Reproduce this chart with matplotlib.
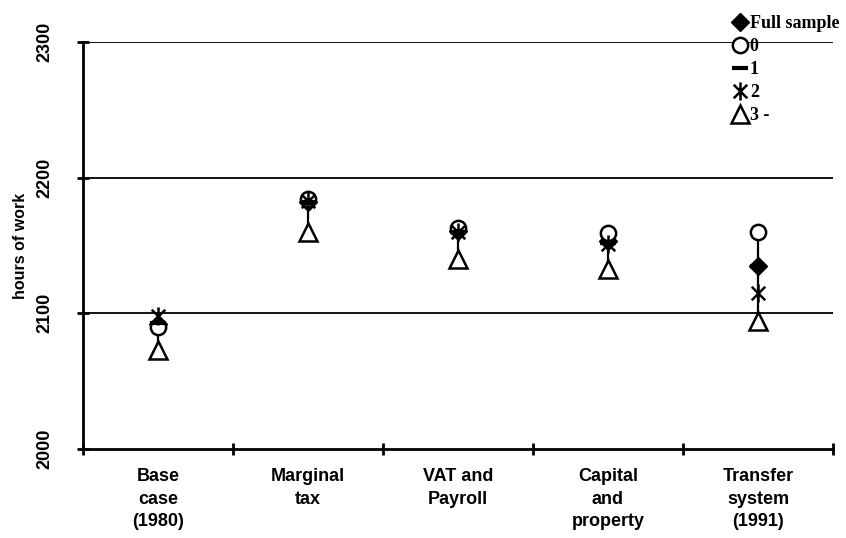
import numpy as np
import matplotlib.pyplot as plt
from matplotlib.path import Path

# Categories and hours of work per group
categorias = ['Base\ncase\n(1980)', 'Marginal\ntax', 'VAT and\nPayroll',
              'Capital\nand\nproperty', 'Transfer\nsystem\n(1991)']
full_sample = [2092, 2182, 2161, 2153, 2135]
grupo_0 = [2090, 2184, 2163, 2159, 2160]
grupo_1 = [2093, 2182, 2160, 2152, 2135]
grupo_2 = [2098, 2183, 2160, 2151, 2115]
grupo_3 = [2073, 2160, 2140, 2133, 2094]

etiquetas = ['Full sample', '0', '1', '2', '3 -']

# Excel-like star marker: X plus vertical bar
estrella = Path([(0, 1), (0, -1), (-0.75, 0.75), (0.75, -0.75), (-0.75, -0.75), (0.75, 0.75)],
                [Path.MOVETO, Path.LINETO, Path.MOVETO, Path.LINETO, Path.MOVETO, Path.LINETO])

fig = plt.figure(figsize=(8.46, 5.38), dpi=100)
ax = fig.add_axes([0.0981, 0.1654, 0.8865, 0.7566])

x = np.arange(len(categorias))
series = [full_sample, grupo_0, grupo_1, grupo_2, grupo_3]
datos = np.array(series)

# high-low lines
for i in x:
    ax.plot([i, i], [datos[:, i].min(), datos[:, i].max()], color='black', lw=1.6, zorder=2)

estilos = [
    dict(marker='D', ms=9, mfc='black', mec='black'),
    dict(marker='o', ms=11, mfc='white', mec='black', mew=1.8),
    dict(marker='_', ms=12, mec='black', mew=3),
    dict(marker=estrella, ms=13, mfc='none', mec='black', mew=1.8),
    dict(marker='^', ms=13, mfc='white', mec='black', mew=1.8),
]
handles = []
for vals, st, lab in zip(series, estilos, etiquetas):
    h, = ax.plot(x, vals, linestyle='none', label=lab, zorder=3, **st)
    handles.append(h)

ax.set_xlim(-0.5, 4.5)
ax.set_ylim(2000, 2300)
ax.set_yticks([2000, 2100, 2200, 2300])
ax.set_yticklabels(['2000', '2100', '2200', '2300'], rotation=90, va='center',
                   fontsize=13, fontweight='bold', family='Liberation Sans')
for y in [2100, 2200, 2300]:
    ax.axhline(y, color='black', lw=1.3, zorder=1)

ax.set_xticks(x)
ax.set_xticklabels(categorias, fontsize=13, fontweight='bold', family='Liberation Sans',
                   linespacing=1.4)
ax.set_xticks(np.arange(-0.5, 5, 1), minor=True)
ax.tick_params(axis='x', which='major', length=0, pad=14)
ax.tick_params(axis='x', which='minor', direction='inout', length=9, width=2)
ax.tick_params(axis='y', direction='inout', length=9, width=2, pad=17)

for s in ['top', 'right']:
    ax.spines[s].set_visible(False)
ax.spines['left'].set_linewidth(2)
ax.spines['bottom'].set_linewidth(2)

ax.set_ylabel('hours of work', fontsize=11.5, fontweight='bold', family='Liberation Sans', labelpad=6)

fig.legend(handles=handles, loc='upper left', bbox_to_anchor=(0.866, 0.972), frameon=False,
           prop={'family': 'Liberation Serif', 'weight': 'bold', 'size': 13},
           handlelength=0.8, handletextpad=0.15, labelspacing=0.33, borderaxespad=0,
           borderpad=0, markerscale=1.0)

plt.savefig('out.png', dpi=100)
